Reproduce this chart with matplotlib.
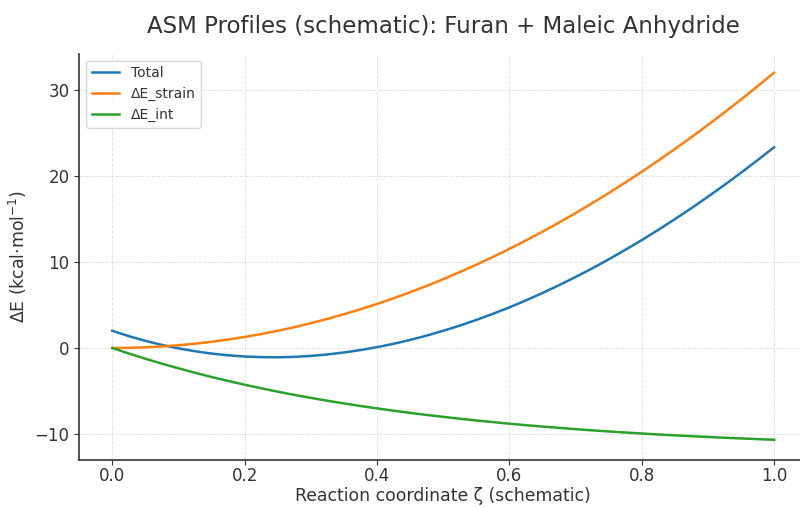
import matplotlib
matplotlib.use("Agg")
import matplotlib.pyplot as plt

zeta = [0.0, 0.025, 0.05, 0.075, 0.10, 0.125, 0.15, 0.175, 0.20, 0.225, 0.25,
        0.275, 0.30, 0.325, 0.35, 0.375, 0.40, 0.425, 0.45, 0.475, 0.50,
        0.525, 0.55, 0.575, 0.60, 0.625, 0.65, 0.675, 0.70, 0.725, 0.75,
        0.775, 0.80, 0.825, 0.85, 0.875, 0.90, 0.925, 0.95, 0.975, 1.00]
e_strain = [0.0, 0.02, 0.08, 0.18, 0.32, 0.50, 0.72, 0.98, 1.28, 1.62, 2.0,
            2.42, 2.88, 3.38, 3.92, 4.50, 5.12, 5.78, 6.48, 7.22, 8.0,
            8.82, 9.68, 10.58, 11.52, 12.50, 13.52, 14.58, 15.68, 16.82, 18.0,
            19.22, 20.48, 21.78, 23.12, 24.50, 25.92, 27.38, 28.88, 30.42, 32.0]
e_int = [0.0, -0.64, -1.25, -1.82, -2.36, -2.88, -3.37, -3.83, -4.27, -4.68, -5.08,
         -5.45, -5.80, -6.13, -6.44, -6.74, -7.02, -7.29, -7.54, -7.78, -8.00,
         -8.22, -8.42, -8.61, -8.80, -8.97, -9.13, -9.28, -9.43, -9.57, -9.70,
         -9.82, -9.94, -10.05, -10.15, -10.25, -10.34, -10.43, -10.51, -10.59, -10.67]
e_total = [2.0, 1.38, 0.83, 0.36, -0.04, -0.38, -0.65, -0.85, -0.99, -1.06, -1.08,
           -1.03, -0.92, -0.75, -0.52, -0.24, 0.10, 0.49, 0.94, 1.44, 2.0,
           2.60, 3.26, 3.97, 4.72, 5.53, 6.39, 7.30, 8.25, 9.25, 10.30,
           11.40, 12.54, 13.73, 14.97, 16.25, 17.58, 18.95, 20.37, 21.83, 23.33]

title = "ASM Profiles (schematic): Furan + Maleic Anhydride"
xlabel = "Reaction coordinate ζ (schematic)"
ylabel = "ΔE (kcal·mol$^{-1}$)"
labels = ["Total", "ΔE_strain", "ΔE_int"]

txt = "#333333"
plt.rcParams["font.family"] = ["DejaVu Sans"]
fig = plt.figure(figsize=(8.0, 5.07), dpi=100)
ax = fig.add_axes([0.099, 0.093, 0.91, 0.801])

ax.plot(zeta, e_total, color="#1f77b4", lw=1.8, label=labels[0])
ax.plot(zeta, e_strain, color="#ff7f0e", lw=1.8, label=labels[1])
ax.plot(zeta, e_int, color="#2ca02c", lw=1.8, label=labels[2])

ax.set_xlim(-0.05, 1.05)
ax.set_ylim(-13.0, 34.2)
ax.set_xticks([0.0, 0.2, 0.4, 0.6, 0.8, 1.0])
ax.set_yticks([-10, 0, 10, 20, 30])
ax.grid(True, linestyle="--", linewidth=0.7, alpha=0.35)
for s in ["top", "right"]:
    ax.spines[s].set_visible(False)
for s in ["left", "bottom"]:
    ax.spines[s].set_color(txt)
    ax.spines[s].set_linewidth(1.2)
ax.tick_params(colors=txt, labelsize=12, labelcolor=txt)
ax.tick_params(axis="x", pad=1.5)
ax.set_title(title, fontsize=16.5, color=txt, pad=15)
ax.set_xlabel(xlabel, fontsize=12.4, color=txt, labelpad=1.5)
ax.set_ylabel(ylabel, fontsize=12.4, color=txt)
leg = ax.legend(loc="upper left", fontsize=10)
for t in leg.get_texts():
    t.set_color(txt)

fig.savefig("out.png", dpi=100)
